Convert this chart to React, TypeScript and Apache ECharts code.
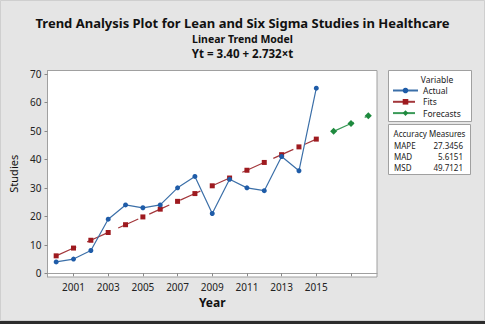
import React, { useEffect, useRef } from "react";
import * as echarts from "echarts";

const years = [2000, 2001, 2002, 2003, 2004, 2005, 2006, 2007, 2008, 2009, 2010, 2011, 2012, 2013, 2014, 2015];
const actual = [4, 5, 8, 19, 24, 23, 24, 30, 34, 21, 33, 30, 29, 41, 36, 65];
const fits = [6.13, 8.86, 11.6, 14.33, 17.06, 19.79, 22.52, 25.26, 27.99, 30.72, 33.45, 36.18, 38.92, 41.65, 44.38, 47.11];
const forecastYears = [2016, 2017, 2018];
const forecasts = [49.84, 52.58, 55.31];
const xTickValues = [2001, 2003, 2005, 2007, 2009, 2011, 2013, 2015, 2017];
const xLabelValues = [2001, 2003, 2005, 2007, 2009, 2011, 2013, 2015];
const yTickValues = [0, 10, 20, 30, 40, 50, 60, 70];
const measureNames = ["MAPE", "MAD", "MSD"];
const measureValues = ["27.3456", "5.6151", "49.7121"];

const FONT = "Noto Sans";
const BLUE = "#1f5ca8";
const RED = "#9e1a1f";
const GREEN = "#1e8a3e";

export default function App() {
  const ref = useRef<HTMLDivElement>(null);
  useEffect(() => {
    document.body.style.margin = "0";
    const chart = echarts.init(ref.current!, null, { renderer: "svg" });
    const measureGraphics: any[] = [];
    measureNames.forEach((n, i) => {
      measureGraphics.push({
        type: "text",
        x: 394,
        y: 145 + i * 11.2,
        style: { text: n, font: `8px "${FONT}"`, fill: "#222", align: "left", verticalAlign: "middle" },
      });
      measureGraphics.push({
        type: "text",
        x: 463,
        y: 145 + i * 11.2,
        style: { text: measureValues[i], font: `8px "${FONT}"`, fill: "#222", align: "right", verticalAlign: "middle" },
      });
    });
    chart.setOption({
      animation: false,
      backgroundColor: "#e5e5e5",
      title: [
        {
          text: "Trend Analysis Plot for Lean and Six Sigma Studies in Healthcare",
          left: "center",
          top: 15,
          padding: 0,
          textStyle: { fontFamily: FONT, fontSize: 13, fontWeight: "bold", color: "#111", lineHeight: 16 },
        },
        {
          text: "Linear Trend Model",
          left: "center",
          top: 32,
          textStyle: { fontFamily: FONT, fontSize: 10.5, fontWeight: "bold", color: "#111", lineHeight: 13 },
          padding: 0,
        },
        {
          text: "Yt = 3.40 + 2.732×t",
          left: "center",
          top: 46.5,
          textStyle: { fontFamily: FONT, fontSize: 11.5, fontWeight: "bold", color: "#111", lineHeight: 14 },
          padding: 0,
        },
      ],
      grid: {
        left: 47.5,
        top: 70.5,
        right: 108,
        bottom: 47,
        show: true,
        backgroundColor: "#ffffff",
        borderColor: "#a0a0a0",
        borderWidth: 1,
      },
      xAxis: {
        type: "value",
        min: 1999.5,
        max: 2018.5,
        name: "Year",
        nameLocation: "middle",
        nameGap: 19,
        nameTextStyle: { fontFamily: FONT, fontSize: 12, fontWeight: "bold", color: "#111" },
        axisLine: { show: true, lineStyle: { color: "#a0a0a0" } },
        axisTick: { show: true, length: 3, customValues: xTickValues, lineStyle: { color: "#888" } },
        axisLabel: {
          customValues: xLabelValues,
          margin: 5,
          fontFamily: FONT,
          fontSize: 10,
          color: "#222",
          formatter: (v: number) => String(v),
        },
        splitLine: { show: false },
      },
      yAxis: {
        type: "value",
        min: -1.3,
        max: 71.2,
        name: "Studies",
        nameLocation: "middle",
        nameGap: 16,
        nameTextStyle: { fontFamily: FONT, fontSize: 11, color: "#111" },
        axisLine: { show: true, lineStyle: { color: "#a0a0a0" } },
        axisTick: { show: true, length: 3, customValues: yTickValues, lineStyle: { color: "#888" } },
        axisLabel: {
          customValues: yTickValues,
          margin: 6,
          fontFamily: FONT,
          fontSize: 10,
          color: "#222",
        },
        splitLine: { show: false },
      },
      legend: {
        orient: "vertical",
        left: 392,
        top: 86,
        padding: 0,
        itemWidth: 25,
        itemHeight: 7,
        itemGap: 2.3,
        textStyle: { fontFamily: FONT, fontSize: 8.5, color: "#222", lineHeight: 9 },
        data: ["Actual", "Fits", "Forecasts"],
      },
      graphic: [
        { type: "rect", shape: { x: 0.5, y: 0.5, width: 484, height: 320 }, style: { fill: "none", stroke: "#cfcfcf", lineWidth: 1 }, silent: true },
        { type: "rect", shape: { x: 0, y: 321, width: 485, height: 3 }, style: { fill: "#2c2c2c" }, silent: true },
        { type: "rect", shape: { x: 388.5, y: 70.5, width: 83, height: 51 }, style: { fill: "#ffffff", stroke: "#a0a0a0", lineWidth: 1 }, silent: true, z: -1 },
        { type: "rect", shape: { x: 388.5, y: 124.5, width: 82, height: 50 }, style: { fill: "#ffffff", stroke: "#a0a0a0", lineWidth: 1 }, silent: true, z: -1 },
        {
          type: "text",
          x: 437,
          y: 79,
          style: { text: "Variable", font: `8.5px "${FONT}"`, fill: "#222", align: "center", verticalAlign: "middle" },
        },
        {
          type: "text",
          x: 429.5,
          y: 133,
          style: { text: "Accuracy Measures", font: `8px "${FONT}"`, fill: "#222", align: "center", verticalAlign: "middle" },
        },
        ...measureGraphics,
      ],
      series: [
        {
          name: "Actual",
          type: "line",
          data: years.map((y, i) => [y, actual[i]]),
          symbol: "circle",
          symbolSize: 5,
          itemStyle: { color: BLUE },
          lineStyle: { color: "#3b6fa8", width: 1.2 },
          z: 3,
        },
        {
          name: "Fits",
          type: "line",
          data: years.map((y, i) => [y, fits[i]]),
          symbol: "rect",
          symbolSize: 5,
          itemStyle: { color: RED },
          lineStyle: { color: "#a3373b", width: 1.2, type: [22, 12] },
          z: 2,
        },
        {
          name: "Forecasts",
          type: "line",
          data: forecastYears.map((y, i) => [y, forecasts[i]]),
          symbol: "diamond",
          symbolSize: 7,
          itemStyle: { color: GREEN },
          lineStyle: { color: "#3a9a58", width: 1.2, type: [22, 12] },
          z: 2,
        },
      ],
    });
    return () => chart.dispose();
  }, []);
  return <div ref={ref} style={{ width: 485, height: 324, position: "fixed", left: 0, top: 0 }} />;
}
